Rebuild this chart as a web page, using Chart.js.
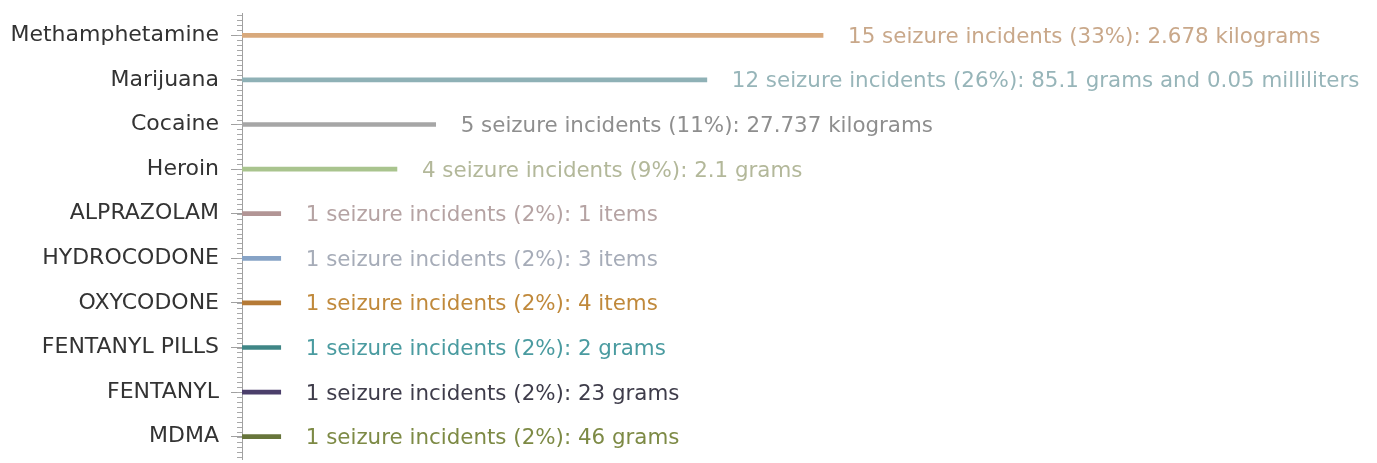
<!DOCTYPE html>
<html>
<head>
<meta charset="utf-8">
<script src="https://cdn.jsdelivr.net/npm/chart.js@4"></script>
<style>
  html, body { margin: 0; padding: 0; background: #fff; overflow: hidden; }
  #wrap { width: 1377px; height: 463px; }
</style>
</head>
<body>
<div id="wrap"><canvas id="seizureChart"></canvas></div>
<script>
const drugs = ["Methamphetamine", "Marijuana", "Cocaine", "Heroin", "ALPRAZOLAM",
  "HYDROCODONE", "OXYCODONE", "FENTANYL PILLS", "FENTANYL", "MDMA"];
const incidents = [15, 12, 5, 4, 1, 1, 1, 1, 1, 1];
const percents = [33, 26, 11, 9, 2, 2, 2, 2, 2, 2];
const amounts = ["2.678 kilograms", "85.1 grams and 0.05 milliliters", "27.737 kilograms",
  "2.1 grams", "1 items", "3 items", "4 items", "2 grams", "23 grams", "46 grams"];

const barColors = ["#d8a97c", "#8fb1b6", "#a6a6a6", "#a9c48e", "#b29595",
  "#86a3c6", "#b57a36", "#3f8686", "#4b3f6b", "#67753b"];
const labelColors = ["#c9a88a", "#97b5b9", "#8e8e8e", "#b3b89a", "#b5a3a3",
  "#a6acb8", "#c0893b", "#4a9ba0", "#3e3c4a", "#7d8a45"];

// minor ticks on the category axis + value text after each bar
const extras = {
  id: "extras",
  afterDraw(chart) {
    const ctx = chart.ctx;
    const y = chart.scales.y;
    const step = (y.getPixelForValue(1) - y.getPixelForValue(0)) / 9;
    ctx.save();
    ctx.strokeStyle = "#a8a8a8";
    ctx.lineWidth = 1;
    ctx.beginPath();
    for (let p = y.getPixelForValue(0); p >= y.top; p -= step) {
      ctx.moveTo(y.right - 5, Math.round(p) + 0.5);
      ctx.lineTo(y.right, Math.round(p) + 0.5);
    }
    for (let p = y.getPixelForValue(0); p <= y.bottom + 2; p += step) {
      ctx.moveTo(y.right - 5, Math.round(p) + 0.5);
      ctx.lineTo(y.right, Math.round(p) + 0.5);
    }
    ctx.stroke();

    const meta = chart.getDatasetMeta(0);
    ctx.font = '21.4px "DejaVu Sans"';
    ctx.textBaseline = "middle";
    ctx.textAlign = "left";
    meta.data.forEach((bar, i) => {
      ctx.fillStyle = labelColors[i];
      const txt = incidents[i] + " seizure incidents (" + percents[i] + "%): " + amounts[i];
      ctx.fillText(txt, bar.x + 25, bar.y + 2);
    });
    ctx.restore();
  }
};

new Chart(document.getElementById("seizureChart"), {
  type: "bar",
  data: {
    labels: drugs,
    datasets: [{
      data: incidents,
      backgroundColor: barColors,
      barThickness: 4,
      borderWidth: 0
    }]
  },
  options: {
    indexAxis: "y",
    responsive: true,
    maintainAspectRatio: false,
    animation: false,
    layout: { padding: { top: 13, bottom: 4, left: 0, right: 0 } },
    plugins: { legend: { display: false }, tooltip: { enabled: false } },
    scales: {
      x: { display: false, min: 0, max: 29.3 },
      y: {
        afterFit(scale) {
          scale.width = 242;
          scale.paddingTop = 0;
          scale.paddingBottom = 0;
        },
        grid: {
          offset: false,
          drawOnChartArea: false,
          tickLength: 11,
          tickColor: "#a0a0a0"
        },
        border: { color: "#a0a0a0" },
        ticks: {
          padding: 12,
          color: "#333333",
          font: { family: "DejaVu Sans", size: 22 }
        }
      }
    }
  },
  plugins: [extras]
});
</script>
</body>
</html>
